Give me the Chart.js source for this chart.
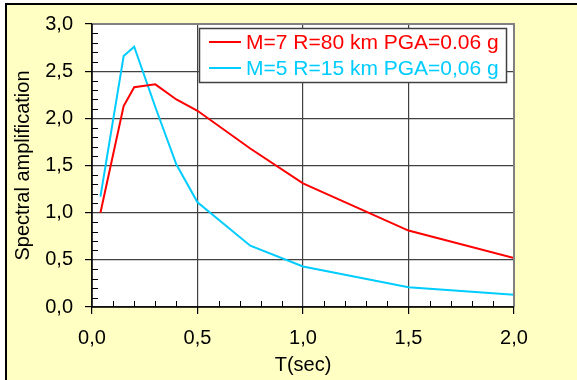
<!DOCTYPE html>
<html><head><meta charset="utf-8">
<script src="https://cdn.jsdelivr.net/npm/chart.js@4"></script>
<style>html,body{margin:0;padding:0;background:#fff}canvas{display:block}</style>
</head><body>
<div style="width:577px;height:380px"><canvas id="c" width="577" height="380"></canvas></div>
<script>
const periods = [0.04, 0.15, 0.2, 0.3, 0.4, 0.5, 0.75, 1.0, 1.5, 2.0];
const ampM7 = [1.0, 2.13, 2.33, 2.36, 2.2, 2.08, 1.68, 1.31, 0.81, 0.52];
const ampM5 = [1.17, 2.66, 2.76, 2.12, 1.51, 1.11, 0.65, 0.43, 0.21, 0.13];
const seriesLabels = ['M=7 R=80 km PGA=0.06 g', 'M=5 R=15 km PGA=0,06 g'];
const seriesColors = ['#FF0000', '#00CCFF'];
const xTicks = [0, 0.5, 1.0, 1.5, 2.0];
const yTicks = [0, 0.5, 1.0, 1.5, 2.0, 2.5, 3.0];
const xTitle = 'T(sec)';
const yTitle = 'Spectral amplification';

const FONT = "'Liberation Sans', Arial, sans-serif";
const fmt = v => Number(v).toFixed(1).replace('.', ',');

const bgPlugin = {
  id: 'bg',
  beforeDraw(chart) {
    const ctx = chart.ctx, W = chart.width, H = chart.height, a = chart.chartArea;
    ctx.save();
    ctx.fillStyle = '#ffffff';
    ctx.fillRect(0, 0, W, H);
    ctx.fillStyle = '#FFFFC4';
    ctx.fillRect(6, 3, W - 6, H - 3);
    ctx.strokeStyle = '#000';
    ctx.lineWidth = 2;
    ctx.beginPath();
    ctx.moveTo(6, H); ctx.lineTo(6, 4); ctx.lineTo(W, 4);
    ctx.stroke();
    ctx.fillStyle = '#ffffff';
    ctx.fillRect(a.left, a.top, a.right - a.left, a.bottom - a.top);
    ctx.restore();
  }
};

const minorPlugin = {
  id: 'minor',
  afterDatasetsDraw(chart) {
    const ctx = chart.ctx, a = chart.chartArea;
    const xs = chart.scales.x, ys = chart.scales.y;
    ctx.save();
    ctx.strokeStyle = '#000';
    ctx.lineWidth = 1;
    ctx.beginPath();
    for (let i = 1; i < 20; i++) {
      if (i % 5 === 0) continue;
      const px = Math.round(xs.getPixelForValue(i / 10)) + 0.5;
      ctx.moveTo(px, a.bottom); ctx.lineTo(px, a.bottom - 6);
    }
    for (let i = 1; i < 30; i++) {
      if (i % 5 === 0) continue;
      const py = Math.round(ys.getPixelForValue(i / 10)) + 0.5;
      ctx.moveTo(a.left, py); ctx.lineTo(a.left + 6, py);
    }
    ctx.stroke();
    ctx.lineWidth = 2;
    ctx.strokeStyle = '#808080';
    ctx.beginPath();
    ctx.moveTo(a.left, a.top); ctx.lineTo(a.right, a.top); ctx.lineTo(a.right, a.bottom);
    ctx.stroke();
    ctx.strokeStyle = '#000';
    ctx.lineWidth = 1.5;
    ctx.beginPath();
    ctx.moveTo(a.left, a.top); ctx.lineTo(a.left, a.bottom); ctx.lineTo(a.right, a.bottom);
    ctx.stroke();
    ctx.restore();
  }
};

const legendPlugin = {
  id: 'boxLegend',
  afterDraw(chart) {
    const ctx = chart.ctx, a = chart.chartArea;
    const w = 307, h = 54;
    const x0 = a.right - 8 - w, y0 = a.top + 4;
    ctx.save();
    ctx.fillStyle = '#fff';
    ctx.fillRect(x0, y0, w, h);
    ctx.strokeStyle = '#404040';
    ctx.lineWidth = 1.5;
    ctx.strokeRect(x0 + 0.5, y0 + 0.5, w, h);
    ctx.font = '21px ' + FONT;
    ctx.textBaseline = 'middle';
    chart.data.datasets.forEach((ds, i) => {
      const cy = y0 + 14 + i * 26;
      ctx.strokeStyle = ds.borderColor;
      ctx.lineWidth = 2;
      ctx.beginPath();
      ctx.moveTo(x0 + 10, cy); ctx.lineTo(x0 + 42, cy);
      ctx.stroke();
      ctx.fillStyle = ds.borderColor;
      ctx.fillText(ds.label, x0 + 47, cy + 1);
    });
    ctx.restore();
  }
};

new Chart(document.getElementById('c'), {
  type: 'line',
  data: {
    datasets: [
      { label: seriesLabels[0], data: periods.map((t, i) => ({ x: t, y: ampM7[i] })), borderColor: seriesColors[0], backgroundColor: seriesColors[0], borderWidth: 2, pointRadius: 0, tension: 0, fill: false },
      { label: seriesLabels[1], data: periods.map((t, i) => ({ x: t, y: ampM5[i] })), borderColor: seriesColors[1], backgroundColor: seriesColors[1], borderWidth: 2, pointRadius: 0, tension: 0, fill: false }
    ]
  },
  options: {
    responsive: false,
    animation: false,
    devicePixelRatio: 1,
    layout: { padding: { left: 8, top: 22, right: 63, bottom: 0 } },
    plugins: { legend: { display: false }, tooltip: { enabled: false } },
    scales: {
      x: {
        type: 'linear', min: 0, max: 2,
        afterBuildTicks: s => { s.ticks = xTicks.map(v => ({ value: v })); },
        afterFit: s => { s.height = 73; },
        grid: { color: '#404040', lineWidth: 1.2, tickLength: 7, tickColor: '#000' },
        border: { display: false },
        ticks: { color: '#000', font: { family: FONT, size: 20 }, padding: 12, maxRotation: 0, callback: v => fmt(v) },
        title: { display: true, text: xTitle, color: '#000', font: { family: FONT, size: 20 }, padding: { top: 0, bottom: 3 } }
      },
      y: {
        type: 'linear', min: 0, max: 3,
        afterBuildTicks: s => { s.ticks = yTicks.map(v => ({ value: v })); },
        afterFit: s => { s.width = 84; },
        grid: { color: '#404040', lineWidth: 1.2, tickLength: 7, tickColor: '#000' },
        border: { display: false },
        ticks: { color: '#000', font: { family: FONT, size: 20 }, padding: 12, callback: v => fmt(v) },
        title: { display: true, text: yTitle, color: '#000', font: { family: FONT, size: 20 }, padding: { top: 3, bottom: 0 } }
      }
    }
  },
  plugins: [bgPlugin, minorPlugin, legendPlugin]
});
</script>
</body></html>
